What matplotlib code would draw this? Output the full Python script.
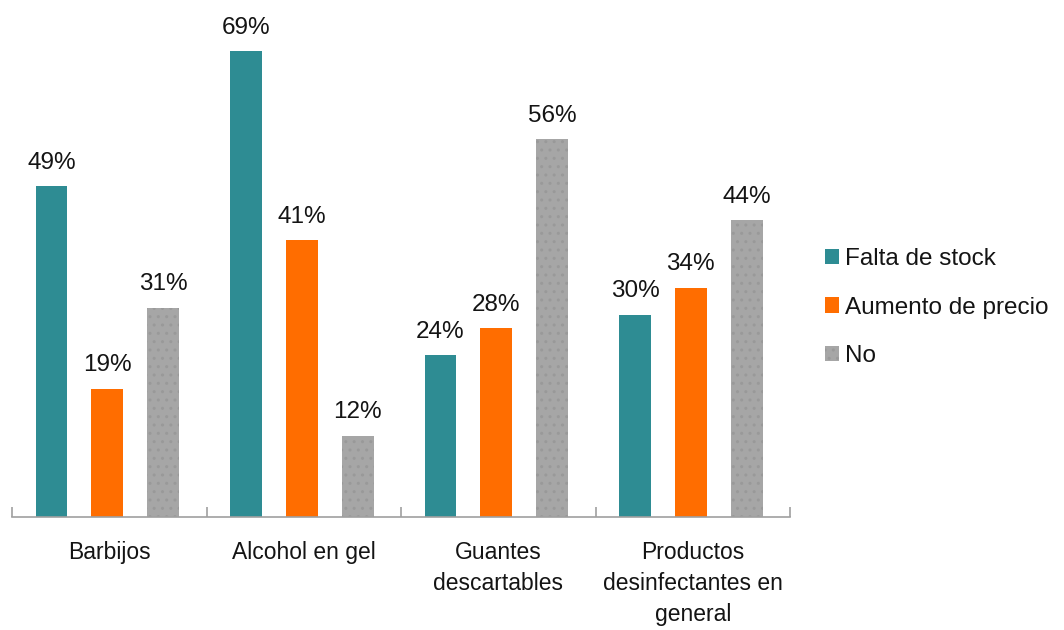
import numpy as np
import matplotlib.pyplot as plt

plt.rcParams["font.family"] = ["Liberation Sans", "DejaVu Sans"]
plt.rcParams["hatch.color"] = "#999999"

categories = ["Barbijos", "Alcohol en gel", "Guantes\ndescartables",
              "Productos\ndesinfectantes en\ngeneral"]
series = ["Falta de stock", "Aumento de precio", "No"]
falta_stock = [49, 69, 24, 30]
aumento_precio = [19, 41, 28, 34]
no_values = [31, 12, 56, 44]

colors = ["#2E8C93", "#FF6D00", "#A6A6A6"]

fig = plt.figure(figsize=(10.64, 6.3), dpi=100)
ax = fig.add_axes([0.0113, 0.1794, 0.7312, 0.8206])

x = np.arange(len(categories))
width = 0.164
offset = 0.287

for k, (name, vals) in enumerate(zip(series, [falta_stock, aumento_precio, no_values])):
    pos = x + (k - 1) * offset - 0.01
    hatch = ".." if name == "No" else None
    bars = ax.bar(pos, vals, width=width, color=colors[k], label=name,
                  hatch=hatch, edgecolor="#999999" if hatch else colors[k], linewidth=0)
    for b, v in zip(bars, vals):
        ax.annotate(f"{v}%", (b.get_x() + b.get_width() / 2, v),
                    xytext=(0, 9), textcoords="offset points",
                    ha="center", va="bottom", fontsize=17.5, color="#141414")

ax.set_xlim(-0.5, len(categories) - 0.5)
ax.set_ylim(0, 76.6)
ax.set_yticks([])
ax.set_xticks(x)
ax.set_xticklabels(categories, fontsize=16.5, color="#141414", linespacing=1.45)
ax.tick_params(axis="x", which="major", length=0, pad=17)
ax.set_xticks(np.arange(-0.5, len(categories)), minor=True)
ax.tick_params(axis="x", which="minor", direction="in", length=7, color="#A0A0A0", width=1.2)
for s in ["top", "right", "left"]:
    ax.spines[s].set_visible(False)
ax.spines["bottom"].set_color("#A0A0A0")
ax.spines["bottom"].set_linewidth(1.2)

leg = ax.legend(loc="center left", bbox_to_anchor=(1.017, 0.405), frameon=False,
                fontsize=17.5, handlelength=0.58, handleheight=0.58,
                handletextpad=0.25, labelspacing=1.1)
for t in leg.get_texts():
    t.set_color("#141414")

fig.savefig("out.png", dpi=100)
